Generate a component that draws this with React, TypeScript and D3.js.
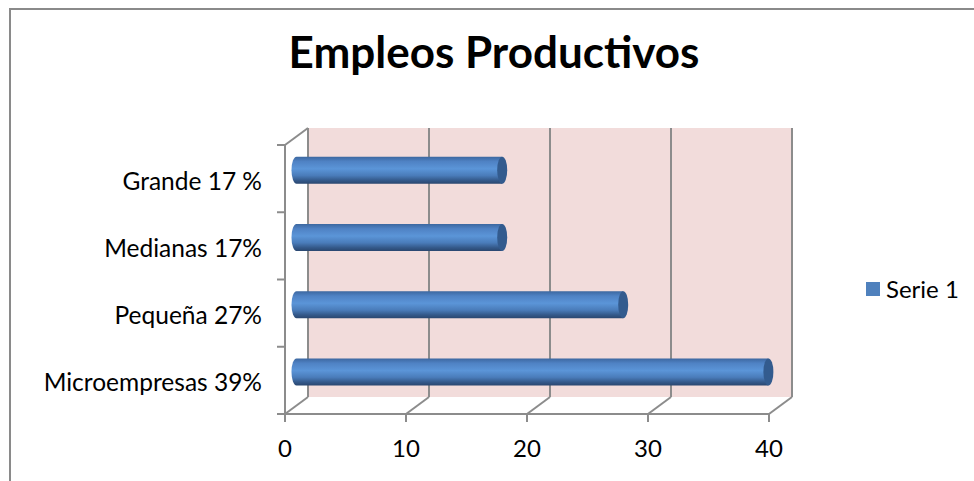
import React from "react";
import * as d3 from "d3";

const categories = ["Grande 17 %", "Medianas 17%", "Pequeña 27%", "Microempresas 39%"];
const values = [17, 17, 27, 39];
const xTicks = [0, 10, 20, 30, 40];
const seriesName = "Serie 1";
const title = "Empleos Productivos";

const W = 974;
const H = 481;
const DX = 23;
const DY = -17;
const FONT = "Lato, 'Open Sans', sans-serif";

export default function App() {
  const x = d3.scaleLinear().domain([0, 40]).range([285, 769]);
  const y = d3.scaleBand().domain(categories).range([145, 414]);
  const yTop = 145;
  const yBot = 414;
  const barH = 27;
  const rx = 5;
  const grid = "#8c8c8c";

  const bandEdges = categories.map((c) => y(c)!).concat([yBot]);

  return (
    <svg
      width={W}
      height={H}
      style={{ position: "absolute", left: 0, top: 0, display: "block" }}
      fontFamily={FONT}
    >
      <defs>
        <linearGradient id="barGrad" x1="0" y1="0" x2="0" y2="1">
          <stop offset="0%" stopColor="#3c679f" />
          <stop offset="18%" stopColor="#4f82c4" />
          <stop offset="45%" stopColor="#5b95d8" />
          <stop offset="70%" stopColor="#4a7cba" />
          <stop offset="88%" stopColor="#34598a" />
          <stop offset="100%" stopColor="#2a4770" />
        </linearGradient>
      </defs>
      <rect x={0} y={0} width={W} height={H} fill="#fff" />
      {/* outer frame */}
      <rect x={10} y={9} width={1200} height={1200} fill="none" stroke="#8a8a8a" strokeWidth={2} />

      {/* title */}
      <text x={494} y={68} textAnchor="middle" fontSize={44} fontWeight="bold" fill="#000">
        {title}
      </text>

      {/* back wall */}
      <rect
        x={x(0) + DX}
        y={yTop + DY}
        width={x(40) - x(0)}
        height={yBot - yTop}
        fill="#f2dcdb"
      />
      {/* vertical gridlines on back wall */}
      {xTicks.map((t) => (
        <line
          key={"g" + t}
          x1={x(t) + DX}
          x2={x(t) + DX}
          y1={yTop + DY}
          y2={yBot + DY}
          stroke={grid}
          strokeWidth={2}
        />
      ))}
      {/* floor diagonals */}
      {xTicks.map((t) => (
        <line
          key={"f" + t}
          x1={x(t)}
          x2={x(t) + DX}
          y1={yBot}
          y2={yBot + DY}
          stroke={grid}
          strokeWidth={2}
        />
      ))}
      {/* top-left diagonal */}
      <line x1={x(0)} x2={x(0) + DX} y1={yTop} y2={yTop + DY} stroke={grid} strokeWidth={2} />
      {/* left axis */}
      <line x1={x(0)} x2={x(0)} y1={yTop} y2={yBot} stroke={grid} strokeWidth={2} />
      {bandEdges.map((e, i) => (
        <line key={"lt" + i} x1={x(0) - 8} x2={x(0)} y1={e} y2={e} stroke={grid} strokeWidth={2} />
      ))}
      {/* bottom axis */}
      <line x1={x(0) - 8} x2={x(40)} y1={yBot} y2={yBot} stroke={grid} strokeWidth={2} />
      {xTicks.map((t) => (
        <line key={"bt" + t} x1={x(t)} x2={x(t)} y1={yBot} y2={yBot + 8} stroke={grid} strokeWidth={2} />
      ))}
      {xTicks.map((t) => (
        <text key={"bl" + t} x={x(t)} y={457} textAnchor="middle" fontSize={24} fill="#000">
          {t}
        </text>
      ))}

      {/* bars (cylinders) */}
      {categories.map((c, i) => {
        const cy = y(c)! + y.bandwidth() / 2 + DY / 2;
        const x0 = x(0) + DX / 2;
        const x1 = x(values[i]) + DX / 2;
        const top = cy - barH / 2;
        const bot = cy + barH / 2;
        const body = `M${x1},${top} L${x0},${top} A${rx},${barH / 2} 0 0 0 ${x0},${bot} L${x1},${bot} Z`;
        return (
          <g key={"b" + i}>
            <path d={body} fill="url(#barGrad)" />
            <ellipse cx={x1} cy={cy} rx={rx} ry={barH / 2} fill="#335b8e" />
          </g>
        );
      })}

      {/* category labels */}
      {categories.map((c) => (
        <text
          key={"cl" + c}
          x={262}
          y={y(c)! + y.bandwidth() / 2 + 11}
          textAnchor="end"
          fontSize={24.5}
          fill="#000"
        >
          {c}
        </text>
      ))}

      {/* legend */}
      <rect x={866} y={282} width={14} height={14} fill="#4f81bd" />
      <text x={886} y={298} fontSize={24} fill="#000">
        {seriesName}
      </text>
    </svg>
  );
}
